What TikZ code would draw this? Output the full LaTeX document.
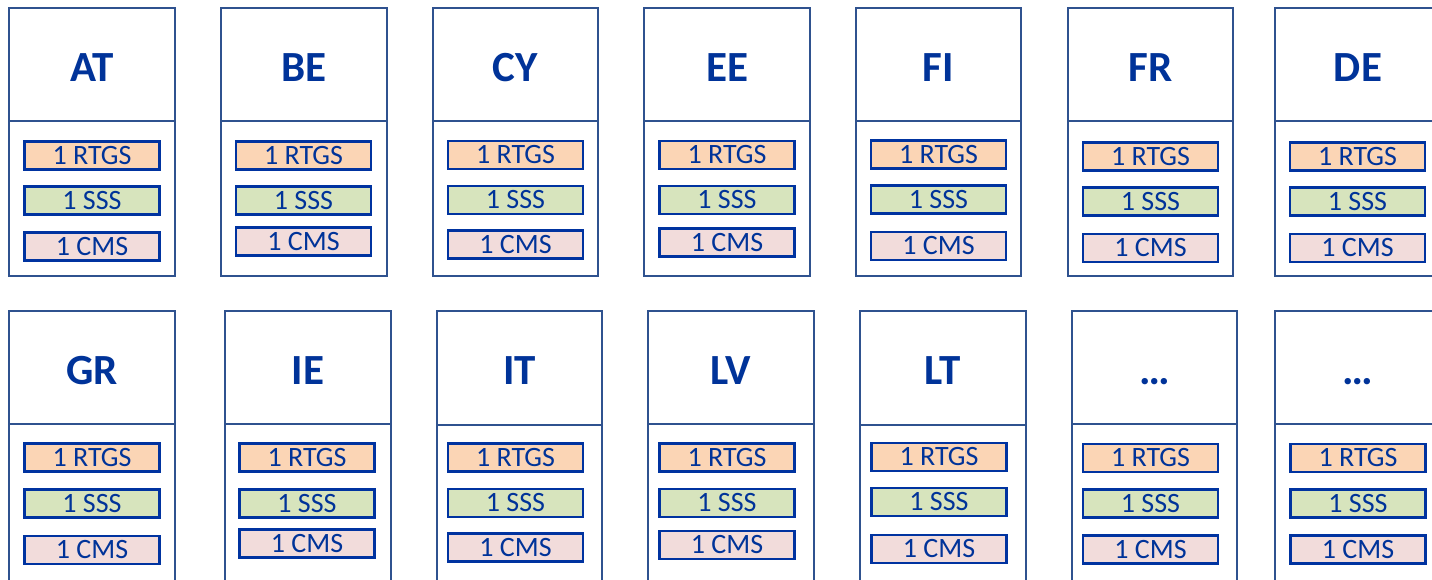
\documentclass[tikz,border=0pt]{standalone}
\usepackage{fontspec}
\setmainfont{Carlito}
\definecolor{outerc}{HTML}{2F528F}
\definecolor{innerc}{HTML}{0033A0}
\definecolor{textc}{HTML}{003399}
\definecolor{rtgsc}{HTML}{FBD5B5}
\definecolor{sssc}{HTML}{D7E4BD}
\definecolor{cmsc}{HTML}{F2DCDB}
\tikzset{
  outerbox/.style={draw=outerc, line width=2pt, fill=white, inner sep=0pt, outer sep=0pt},
  titletext/.style={text=textc, font=\fontsize{43}{43}\selectfont\bfseries, inner sep=0pt, anchor=base},
  sysbox/.style={draw=innerc, line width=2.6pt, inner sep=0pt, minimum width=135pt, minimum height=28pt,
    text=textc, font=\fontsize{28}{28}\selectfont},
  rtgsbox/.style={sysbox, fill=rtgsc},
  sssbox/.style={sysbox, fill=sssc},
  cmsbox/.style={sysbox, fill=cmsc}
}
\begin{document}
\begin{tikzpicture}[x=1pt,y=-1pt]
\useasboundingbox (0,0) rectangle (1432,579);
\clip (0,0) rectangle (1432,579);
\foreach \n/\t/\l/\r/\tp/\dv/\bt/\ix/\ya/\yb/\yc in {
  at/AT/9/175/8/121/276/92/155.5/200.5/246.5,
  be/BE/221/387/8/121/276/303.5/155.5/200.5/241.5,
  cy/CY/433/598/8/121/276/515.5/155/200/244.5,
  ee/EE/644/810/8/121/276/727/155/200/242.5,
  fi/FI/856/1021/8/121/276/938.5/154.5/199.5/246,
  fr/FR/1068/1233/8/121/276/1150.5/156.5/201.5/248,
  de/DE/1275/1441/8/121/276/1357.5/156.5/201.5/248,
  gr/GR/9/175/311/424/600/92/457.5/503.5/550,
  ie/IE/225/391/311/424/600/307/457.5/503.5/543.5,
  it/IT/437/602/311/425/600/515.5/457.5/503/547.5,
  lv/LV/648/814/311/424/600/727/457.5/503/545,
  lt/LT/860/1026/311/425/600/939/457/502/549,
  xa/…/1072/1237/311/424/600/1150.5/458/503.5/549.5,
  xb/…/1275/1441/311/424/600/1358/458/503.5/549.5}{
  \pgfmathsetmacro\cx{(\l+\r)/2}
  \pgfmathsetmacro\w{\r-\l}
  \pgfmathsetmacro\hh{\dv-\tp}
  \pgfmathsetmacro\bh{\bt-\dv}
  \pgfmathsetmacro\hy{(\tp+\dv)/2}
  \pgfmathsetmacro\by{(\dv+\bt)/2}
  \pgfmathsetmacro\ty{\tp+73}
  \node[outerbox, minimum width=\w pt, minimum height=\hh pt] (\n-h) at (\cx,\hy) {};
  \node[outerbox, minimum width=\w pt, minimum height=\bh pt] (\n-b) at (\cx,\by) {};
  \node[titletext] (\n-t) at (\cx,\ty) {\t};
  \node[rtgsbox] (\n-r) at (\ix,\ya) {1 RTGS};
  \node[sssbox] (\n-s) at (\ix,\yb) {1 SSS};
  \node[cmsbox] (\n-c) at (\ix,\yc) {1 CMS};
}
\end{tikzpicture}
\end{document}
